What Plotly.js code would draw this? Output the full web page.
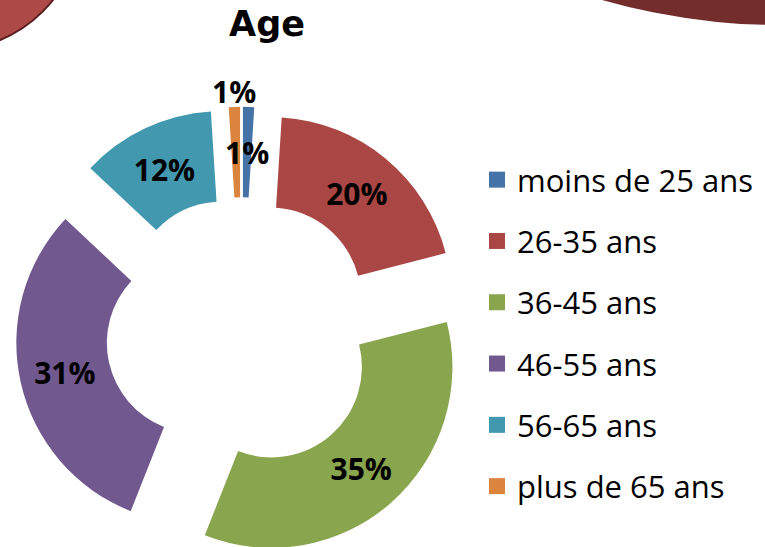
<!DOCTYPE html>
<html>
<head>
<meta charset="utf-8">
<script src="https://cdn.plot.ly/plotly-3.0.1.min.js"></script>
<style>
html, body { margin: 0; padding: 0; overflow: hidden; background: #ffffff; }
#chart { width: 765px; height: 600px; }
</style>
</head>
<body>
<div id="chart"></div>
<script>
// ---- data ----
const categories = ['moins de 25 ans', '26-35 ans', '36-45 ans', '46-55 ans', '56-65 ans', 'plus de 65 ans'];
const values = [1, 20, 35, 31, 12, 1];
const sliceColors = ['#4572A7', '#AA4643', '#89A54E', '#71588F', '#4198AF', '#DB843D'];
// 'inside' = drawn by the pie itself; 'ring' / 'outer' = thin slices labelled by annotation
const labelPositions = ['ring', 'inside', 'inside', 'inside', 'inside', 'outer'];
const chartTitle = 'Age';

// ---- layout constants ----
const W = 765, H = 600;
const box = { l: 15.25, r: 467.75, t: 106.75, b: 559.25 };
const pull = 0.25, hole = 0.5;
const labelFont = { family: 'Open Sans', size: 30, color: '#000000', weight: 700 };

const pie = {
  type: 'pie',
  labels: categories,
  values: values,
  sort: false,
  direction: 'clockwise',
  rotation: 0,
  hole: hole,
  pull: values.map(() => pull),
  marker: { colors: sliceColors, line: { width: 0 } },
  texttemplate: '%{percent:.0%}',
  textposition: labelPositions.map(p => p === 'inside' ? 'inside' : 'none'),
  insidetextorientation: 'horizontal',
  textfont: labelFont,
  insidetextfont: labelFont,
  outsidetextfont: labelFont,
  showlegend: false,
  hoverinfo: 'label+percent',
  domain: { x: [box.l / W, box.r / W], y: [1 - box.b / H, 1 - box.t / H] }
};

// legend entries (square swatches) built from the same arrays
const legendTraces = categories.map((c, i) => ({
  type: 'scatter', mode: 'markers', x: [null], y: [null], name: c,
  legendgroup: c,
  marker: { symbol: 'square', size: 16, color: sliceColors[i], line: { width: 0 } },
  hoverinfo: 'skip'
}));

// labels for thin slices, placed from the slice geometry
const total = values.reduce((a, b) => a + b, 0);
const cx = (box.l + box.r) / 2, cy = (box.t + box.b) / 2;
const R = (box.r - box.l) / 2 / (1 + pull);
const annotations = [];
let cum = 0;
values.forEach((v, i) => {
  const mid = (cum + v / 2) / total * 2 * Math.PI;
  cum += v;
  const pos = labelPositions[i];
  if (pos === 'inside') return;
  const rad = pos === 'ring' ? pull * R + R * (1 + hole) / 2 : pull * R + R + 15;
  const px = cx + rad * Math.sin(mid), py = cy - rad * Math.cos(mid);
  annotations.push({
    xref: 'paper', yref: 'paper', x: px / W, y: 1 - py / H,
    xanchor: 'center', yanchor: 'middle', showarrow: false,
    text: Math.round(v / total * 100) + '%', font: labelFont
  });
});

const layout = {
  width: W, height: H,
  margin: { l: 0, r: 0, t: 0, b: 0 },
  paper_bgcolor: '#ffffff', plot_bgcolor: 'rgba(0,0,0,0)',
  title: {
    text: chartTitle, xref: 'container', yref: 'container',
    x: 267 / W, xanchor: 'center', y: 1 - 24 / H, yanchor: 'middle',
    font: { family: 'DejaVu Sans', size: 35, color: '#000000', weight: 700 }
  },
  xaxis: { visible: false }, yaxis: { visible: false },
  showlegend: true,
  legend: {
    x: 477 / W, xanchor: 'left', y: 1 - 153 / H, yanchor: 'top',
    font: { family: 'Open Sans', size: 31, color: '#000000' },
    tracegroupgap: 18, bgcolor: 'rgba(0,0,0,0)', borderwidth: 0
  },
  annotations: annotations,
  shapes: [
    { type: 'circle', xref: 'paper', yref: 'paper', layer: 'below',
      x0: -181 / W, x1: 81 / W, y0: 1 + 212 / H, y1: 1 - 50 / H,
      fillcolor: '#AD4A48', line: { color: '#5A1E1E', width: 2 } },
    { type: 'circle', xref: 'paper', yref: 'paper', layer: 'below',
      x0: 134 / W, x1: 1426 / W, y0: 1 + 1267 / H, y1: 1 - 25 / H,
      fillcolor: '#742D2D', line: { width: 0 } }
  ],
  hovermode: 'closest'
};

Plotly.newPlot('chart', [pie].concat(legendTraces), layout, { displayModeBar: false, responsive: false });
</script>
</body>
</html>
